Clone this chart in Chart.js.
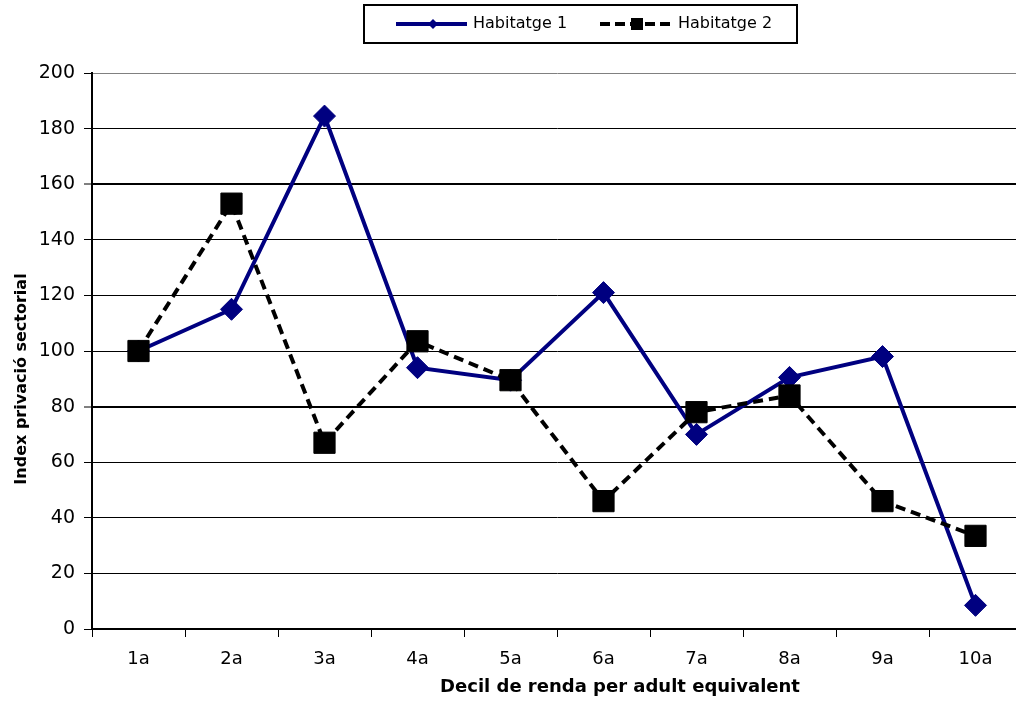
<!DOCTYPE html>
<html>
<head>
<meta charset="utf-8">
<script src="https://cdn.jsdelivr.net/npm/chart.js@4/dist/chart.umd.min.js"></script>
<style>
  html, body { margin: 0; padding: 0; background: #fff; overflow: hidden; }
  #wrap { width: 1016px; height: 701px; overflow: hidden; position: relative; }
  canvas { display: block; }
</style>
</head>
<body>
<div id="wrap"><canvas id="c" width="1038" height="701"></canvas></div>
<script>
const categories = ['1a', '2a', '3a', '4a', '5a', '6a', '7a', '8a', '9a', '10a'];
const habitatge1 = [100, 115, 184.5, 94, 89.5, 121, 70, 90.5, 98, 8.5];
const habitatge2 = [100, 153, 67, 103.5, 89.5, 46, 78, 84, 46, 33.5];
const seriesNames = ['Habitatge 1', 'Habitatge 2'];
const yTitle = 'Index privació sectorial';
const xTitle = 'Decil de renda per adult equivalent';

const NAVY = '#000080';

const decorations = {
  id: 'decorations',
  afterDraw(chart) {
    const ctx = chart.ctx;
    ctx.save();
    ctx.strokeStyle = '#000';
    ctx.lineWidth = 2;
    ctx.strokeRect(364, 5, 433, 38);
    const y = 24;
    ctx.strokeStyle = NAVY;
    ctx.lineWidth = 4;
    ctx.setLineDash([]);
    ctx.beginPath(); ctx.moveTo(396, y); ctx.lineTo(467, y); ctx.stroke();
    ctx.fillStyle = NAVY;
    ctx.beginPath();
    ctx.moveTo(433, y - 5); ctx.lineTo(438, y); ctx.lineTo(433, y + 5); ctx.lineTo(428, y); ctx.closePath();
    ctx.fill();
    ctx.fillStyle = '#000';
    ctx.font = '16px "DejaVu Sans"';
    ctx.textBaseline = 'middle';
    ctx.textAlign = 'left';
    ctx.fillText(seriesNames[0], 473, y);
    ctx.strokeStyle = '#000';
    ctx.lineWidth = 4;
    ctx.setLineDash([10, 5]);
    ctx.beginPath(); ctx.moveTo(600, y); ctx.lineTo(672, y); ctx.stroke();
    ctx.setLineDash([]);
    ctx.fillRect(631, y - 6, 12, 12);
    ctx.fillText(seriesNames[1], 678, y);
    ctx.font = 'bold 18px "DejaVu Sans"';
    ctx.textAlign = 'center';
    ctx.fillText(xTitle, 620, 687);
    ctx.translate(22, 379);
    ctx.rotate(-Math.PI / 2);
    ctx.font = 'bold 16px "DejaVu Sans"';
    ctx.fillText(yTitle, 0, 0);
    ctx.restore();
  }
};

new Chart(document.getElementById('c'), {
  type: 'line',
  data: {
    labels: categories,
    datasets: [
      {
        label: seriesNames[0],
        data: habitatge1,
        borderColor: NAVY,
        backgroundColor: NAVY,
        borderWidth: 4,
        pointStyle: 'rectRot',
        pointRadius: 11,
        pointBorderWidth: 1,
        pointBackgroundColor: NAVY,
        pointBorderColor: NAVY,
        tension: 0,
        order: 1
      },
      {
        label: seriesNames[1],
        data: habitatge2,
        borderColor: '#000',
        backgroundColor: '#000',
        borderWidth: 4,
        borderDash: [10, 6],
        pointStyle: 'rect',
        pointRadius: 15,
        pointBorderWidth: 1,
        pointBackgroundColor: '#000',
        pointBorderColor: '#000',
        tension: 0,
        order: 0
      }
    ]
  },
  options: {
    responsive: false,
    animation: false,
    devicePixelRatio: 1,
    layout: { padding: { top: 73, right: 0, bottom: 0, left: 0 } },
    plugins: {
      legend: { display: false },
      tooltip: { enabled: false },
      title: { display: false }
    },
    scales: {
      x: {
        offset: true,
        grid: {
          offset: true,
          drawOnChartArea: false,
          drawTicks: true,
          tickLength: 8,
          color: '#000',
          lineWidth: 1
        },
        border: { display: true, color: '#000', width: 2 },
        ticks: {
          color: '#000',
          font: { family: '"DejaVu Sans"', size: 18 },
          padding: 12,
          maxRotation: 0,
          autoSkip: false
        },
        title: { display: false },
        afterFit(scale) { scale.height = 72; }
      },
      y: {
        min: 0,
        max: 200,
        ticks: {
          stepSize: 20,
          color: '#000',
          font: { family: '"DejaVu Sans"', size: 19 },
          padding: 9
        },
        grid: {
          color: (c) => (c.tick && c.tick.value === 200) ? '#808080' : '#000',
          lineWidth: (c) => (c.tick && (c.tick.value === 160 || c.tick.value === 80)) ? 2 : 1,
          tickLength: 8,
          tickColor: '#000',
          tickWidth: 1
        },
        border: { display: true, color: '#000', width: 2 },
        title: { display: false },
        afterFit(scale) { scale.width = 92; }
      }
    }
  },
  plugins: [decorations]
});
</script>
</body>
</html>
